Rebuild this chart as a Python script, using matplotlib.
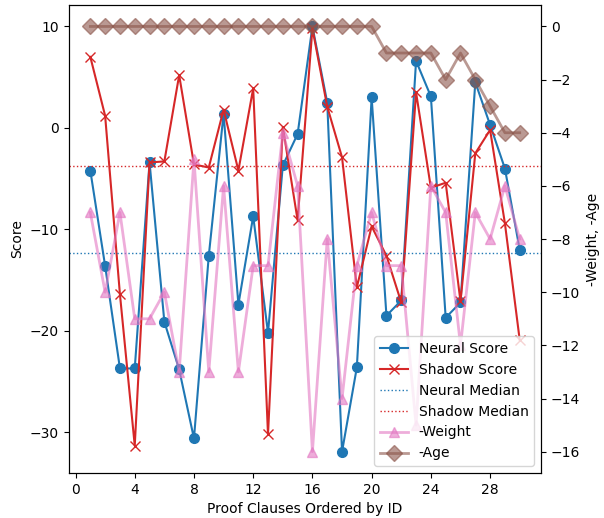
import numpy as np
import matplotlib
matplotlib.use("Agg")
import matplotlib.pyplot as plt

# Proof clauses ordered by ID
clause_ids = list(range(1, 31))

# Scores
neural_score = [-4.2, -13.6, -23.7, -23.7, -3.4, -19.1, -23.8, -30.6, -12.6, 1.4,
                -17.4, -8.7, -20.2, -3.7, -0.6, 10.0, 2.5, -31.9, -23.6, 3.0,
                -18.5, -17.0, 6.6, 3.1, -18.7, -17.2, 4.5, 0.3, -4.0, -12.0]
shadow_score = [7.0, 1.2, -16.4, -31.3, -3.4, -3.3, 5.2, -3.6, -3.9, 1.8,
                -4.2, 3.9, -30.2, 0.1, -9.1, 9.8, 2.1, -2.9, -15.7, -9.7,
                -12.6, -17.2, 3.5, -5.9, -5.4, -17.1, -2.5, -0.2, -9.4, -20.9]

# Negated clause weight and age (right axis)
neg_weight = [-7, -10, -7, -11, -11, -10, -13, -5, -13, -6,
              -13, -9, -9, -4, -6, -16, -8, -14, -9, -7,
              -9, -9, -15, -6, -7, -12, -7, -8, -6, -8]
neg_age = [0, 0, 0, 0, 0, 0, 0, 0, 0, 0,
           0, 0, 0, 0, 0, 0, 0, 0, 0, 0,
           -1, -1, -1, -1, -2, -1, -2, -3, -4, -4]

fig = plt.figure(figsize=(6.04, 5.18), dpi=100)
ax = fig.add_axes([0.114, 0.087, 0.782, 0.903])

l1, = ax.plot(clause_ids, neural_score, color='tab:blue', marker='o', markersize=7, linewidth=1.5, label='Neural Score')
l2, = ax.plot(clause_ids, shadow_score, color='tab:red', marker='x', markersize=7, linewidth=1.5, label='Shadow Score')
l3 = ax.axhline(np.median(neural_score), color='tab:blue', linestyle=':', linewidth=1, label='Neural Median')
l4 = ax.axhline(np.median(shadow_score), color='tab:red', linestyle=':', linewidth=1, label='Shadow Median')
ax.set_xlabel('Proof Clauses Ordered by ID')
ax.set_ylabel('Score')
ax.set_xticks(range(0, 29, 4))

ax2 = ax.twinx()
l5, = ax2.plot(clause_ids, neg_weight, color='tab:pink', marker='^', markersize=7, linewidth=2, alpha=0.6, label='-Weight')
l6, = ax2.plot(clause_ids, neg_age, color='tab:brown', marker='D', markersize=8, linewidth=2, alpha=0.6, label='-Age')
ax2.set_ylabel('-Weight, -Age')

lines = [l1, l2, l3, l4, l5, l6]
ax2.legend(lines, [l.get_label() for l in lines], loc='lower right')

plt.savefig('out.png', dpi=100)
